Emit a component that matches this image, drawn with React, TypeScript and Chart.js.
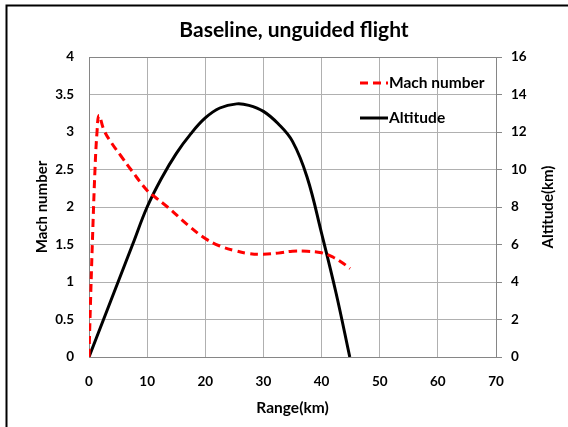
import React, { useEffect, useRef } from "react";
import { Chart, registerables } from "chart.js";

Chart.register(...registerables);

const chartTitle = "Baseline, unguided flight";
const xTitle = "Range(km)";
const yLeftTitle = "Mach number";
const yRightTitle = "Altitude(km)";
const seriesNames = ["Mach number", "Altitude"];

const machRange = [0, 0.17, 0.57, 1.03, 1.38, 1.72, 2.6, 4, 5.5, 7.2, 10, 11.4, 13.5, 17, 20, 22.5, 25, 27.5, 30, 32.5, 35, 37.5, 40, 42, 43.5, 44.9];
const machValues = [0, 0.5, 1.5, 2.5, 3.0, 3.22, 3.02, 2.84, 2.68, 2.5, 2.22, 2.13, 2.0, 1.76, 1.58, 1.48, 1.42, 1.38, 1.37, 1.385, 1.41, 1.41, 1.39, 1.33, 1.26, 1.18];

const altRange = [0, 2.5, 5, 7.5, 10, 12.5, 15, 17.5, 20, 22.5, 25.4, 27.5, 30, 32.5, 35, 37.5, 40, 42.5, 44.85];
const altValues = [0, 2, 4, 6, 8, 9.55, 10.85, 11.9, 12.75, 13.28, 13.5, 13.42, 13.1, 12.45, 11.5, 9.6, 6.6, 3.4, 0];

const xTicks = { min: 0, max: 70, step: 10 };
const yLeftTicks = { min: 0, max: 4, step: 0.5 };
const yRightTicks = { min: 0, max: 16, step: 2 };

const FONT = "Lato";
const GRID = "#b0b0b0";
const BORDER = "#868686";

const decor = {
  id: "decor",
  beforeDatasetsDraw(chart: any) {
    const { ctx, chartArea } = chart;
    const l = Math.round(chartArea.left), t = Math.round(chartArea.top);
    const r = Math.round(chartArea.right), b = Math.round(chartArea.bottom);
    ctx.save();
    ctx.strokeStyle = BORDER;
    ctx.lineWidth = 1;
    ctx.strokeRect(l + 0.5, t + 0.5, r - l, b - t);
    ctx.restore();
  },
  afterDraw(chart: any) {
    const { ctx, chartArea } = chart;
    ctx.save();
    // outer frame
    ctx.strokeStyle = "#000";
    ctx.lineWidth = 2;
    ctx.beginPath();
    ctx.moveTo(6.5, 430);
    ctx.lineTo(6.5, 5.5);
    ctx.lineTo(570, 5.5);
    ctx.stroke();
    // title
    ctx.fillStyle = "#000";
    ctx.font = `bold 21px ${FONT}`;
    ctx.textAlign = "center";
    ctx.textBaseline = "middle";
    ctx.fillText(chartTitle, 294, 30);
    // right axis title, reading bottom-to-top
    ctx.save();
    ctx.translate(548, (chartArea.top + chartArea.bottom) / 2);
    ctx.rotate(-Math.PI / 2);
    ctx.font = `bold 15px ${FONT}`;
    ctx.fillText(yRightTitle, 0, 0);
    ctx.restore();
    // legend
    ctx.font = `bold 15.5px ${FONT}`;
    ctx.textAlign = "left";
    ctx.lineWidth = 3;
    ctx.strokeStyle = "#ff0000";
    ctx.setLineDash([8, 5]);
    ctx.beginPath();
    ctx.moveTo(360, 83);
    ctx.lineTo(388, 83);
    ctx.stroke();
    ctx.setLineDash([]);
    ctx.strokeStyle = "#000";
    ctx.beginPath();
    ctx.moveTo(360, 118);
    ctx.lineTo(388, 118);
    ctx.stroke();
    ctx.fillText(seriesNames[0], 389, 83);
    ctx.fillText(seriesNames[1], 389, 118);
    ctx.restore();
  },
};

const tickFont = { family: FONT, size: 13.5, weight: "bold" };
const plain = (v: any) => `${v}`;

export default function App() {
  const ref = useRef<HTMLCanvasElement | null>(null);
  useEffect(() => {
    if (!ref.current) return;
    const chart = new Chart(ref.current, {
      type: "line",
      data: {
        datasets: [
          {
            label: seriesNames[0],
            data: machRange.map((x, i) => ({ x, y: machValues[i] })),
            borderColor: "#ff0000",
            borderWidth: 3,
            borderDash: [8, 5],
            pointRadius: 0,
            tension: 0.4,
            yAxisID: "y",
            fill: false,
          },
          {
            label: seriesNames[1],
            data: altRange.map((x, i) => ({ x, y: altValues[i] })),
            borderColor: "#000000",
            borderWidth: 3,
            pointRadius: 0,
            tension: 0.4,
            yAxisID: "y1",
            fill: false,
          },
        ],
      },
      options: {
        responsive: false,
        animation: false,
        devicePixelRatio: 1,
        layout: { padding: { top: 57, left: 0, right: 0, bottom: 0 } },
        plugins: {
          legend: { display: false },
          title: { display: false },
          tooltip: { enabled: false },
        },
        scales: {
          x: {
            type: "linear",
            min: xTicks.min,
            max: xTicks.max,
            ticks: { stepSize: xTicks.step, padding: 17, color: "#000", font: tickFont, callback: plain },
            grid: { color: GRID, drawTicks: false },
            border: { display: false },
            title: { display: true, text: xTitle, color: "#000", font: { family: FONT, size: 15.5, weight: "bold" }, padding: { top: 0, bottom: 9.6 } },
            afterFit: (s: any) => { s.height = 70; },
          },
          y: {
            type: "linear",
            position: "left",
            min: yLeftTicks.min,
            max: yLeftTicks.max,
            ticks: { stepSize: yLeftTicks.step, padding: 15, color: "#000", font: tickFont, callback: plain },
            grid: { color: GRID, drawTicks: false },
            border: { display: false },
            title: { display: true, text: yLeftTitle, color: "#000", font: { family: FONT, size: 15, weight: "bold" }, padding: { top: 33, bottom: 0 } },
            afterFit: (s: any) => { s.width = 89; },
          },
          y1: {
            type: "linear",
            position: "right",
            min: yRightTicks.min,
            max: yRightTicks.max,
            ticks: { stepSize: yRightTicks.step, padding: 9, color: "#000", font: tickFont, callback: plain },
            grid: { drawOnChartArea: false, drawTicks: true, tickLength: 6, tickColor: BORDER, color: BORDER },
            border: { display: false },
            title: { display: false },
            afterFit: (s: any) => { s.width = 72; },
          },
        },
      },
      plugins: [decor],
    } as any);
    return () => chart.destroy();
  }, []);
  return (
    <div style={{ position: "fixed", left: 0, top: 0, width: 568, height: 427 }}>
      <canvas ref={ref} width={568} height={427} style={{ display: "block" }} />
    </div>
  );
}
